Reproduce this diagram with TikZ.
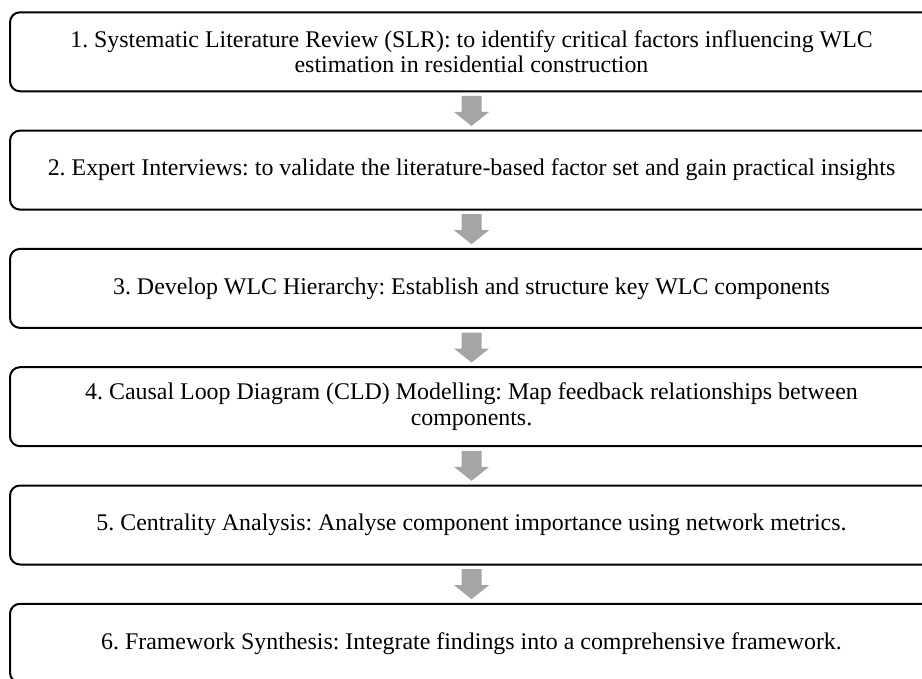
\documentclass[tikz,border=0pt]{standalone}
\usepackage{fontspec}
\setmainfont{Liberation Serif}
\usetikzlibrary{calc}
\definecolor{arrowgray}{RGB}{165,165,165}
\frenchspacing
\tikzset{
  stepbox/.style={draw=black, line width=2pt, rounded corners=10pt, fill=white,
    minimum width=923pt, minimum height=79pt, align=center, inner sep=0pt,
    font=\fontsize{23.9}{25.7}\selectfont},
  flowarrow/.style={fill=arrowgray, draw=none}
}
\begin{document}
\begin{tikzpicture}[x=1pt,y=-1pt]
  \useasboundingbox (0,0) rectangle (922,679);
  \clip (0,0) rectangle (922,679);
  \node[stepbox] (b1) at (471.5,51.8) {1. Systematic Literature Review (SLR): to identify critical factors influencing WLC\\estimation in residential construction};
  \node[stepbox] (b2) at (471.5,170.1) {2. Expert Interviews: to validate the literature-based factor set and gain practical insights};
  \node[stepbox] (b3) at (471.5,288.4) {3. Develop WLC Hierarchy: Establish and structure key WLC components};
  \node[stepbox] (b4) at (471.5,406.7) {4. Causal Loop Diagram (CLD) Modelling: Map feedback relationships between\\components.};
  \node[stepbox] (b5) at (471.5,525.0) {5. Centrality Analysis: Analyse component importance using network metrics.};
  \node[stepbox] (b6) at (471.5,643.3) {6. Framework Synthesis: Integrate findings into a comprehensive framework.};
  % block arrows between consecutive steps
  \foreach \a/\b in {b1/b2,b2/b3,b3/b4,b4/b5,b5/b6}{
    \fill[flowarrow] ($(\a.south)!0.5!(\b.north)$) ++(-10,-15) -- ++(20,0) -- ++(0,16)
      -- ++(7.5,0) -- ++(-17.5,14) -- ++(-17.5,-14) -- ++(7.5,0) -- cycle;
  }
\end{tikzpicture}
\end{document}
